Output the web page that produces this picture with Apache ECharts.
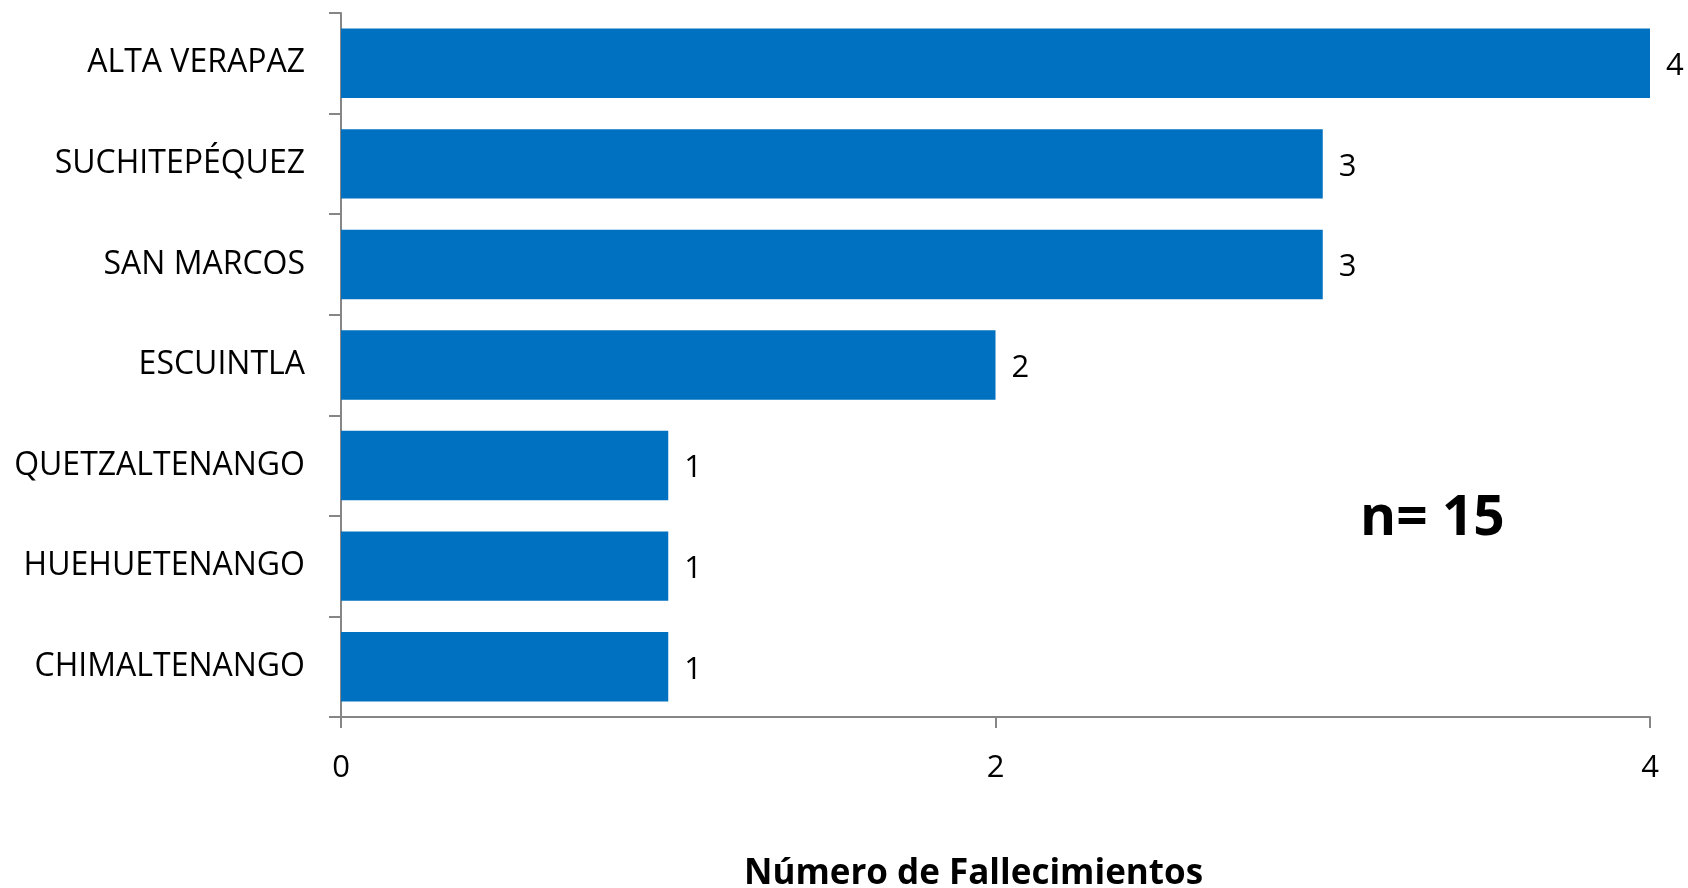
<!DOCTYPE html>
<html><head><meta charset="utf-8">
<script src="https://cdn.jsdelivr.net/npm/echarts@6/dist/echarts.min.js"></script>
<style>html,body{margin:0;padding:0;background:#fff}#c{width:1688px;height:888px}</style>
</head><body><div id="c"></div>
<script>
const categories = ['CHIMALTENANGO','HUEHUETENANGO','QUETZALTENANGO','ESCUINTLA','SAN MARCOS','SUCHITEPÉQUEZ','ALTA VERAPAZ'];
const values = [1,1,1,2,3,3,4];
const xTicks = [0,2,4];
const axisTitle = 'Número de Fallecimientos';
const note = 'n= 15';
const font = '"Open Sans", Calibri, sans-serif';
const chart = echarts.init(document.getElementById('c'));
chart.setOption({
  animation:false,
  grid:{left:341,top:13,right:38,bottom:171,containLabel:false,outerBoundsMode:'none'},
  xAxis:{type:'value',min:0,max:4,interval:2,
    axisLine:{show:true,lineStyle:{color:'#868686',width:2}},
    axisTick:{show:true,length:11,lineStyle:{color:'#868686',width:2}},
    splitLine:{show:false},
    axisLabel:{fontFamily:font,fontSize:31,color:'#000',margin:36,formatter:v=>xTicks.includes(v)?String(v):''},
    name:axisTitle,nameLocation:'middle',nameGap:140,
    nameTextStyle:{fontFamily:font,fontSize:35,fontWeight:'bold',color:'#000',padding:[0,44,0,0]}
  },
  yAxis:{type:'category',data:categories,
    axisLine:{show:true,lineStyle:{color:'#868686',width:2}},
    axisTick:{show:true,length:12,lineStyle:{color:'#868686',width:2}},
    axisLabel:{fontFamily:font,fontSize:32,color:'#000',margin:36}
  },
  series:[{type:'bar',data:values,barCategoryGap:'31%',
    itemStyle:{color:'#0070C0'},
    label:{show:true,position:'right',distance:16,fontFamily:font,fontSize:31,color:'#000',offset:[0,3]}
  }],
  graphic:[{type:'text',left:1360,top:492,style:{text:note,font:'bold 55px '+font,fill:'#000'}}]
});
</script></body></html>
